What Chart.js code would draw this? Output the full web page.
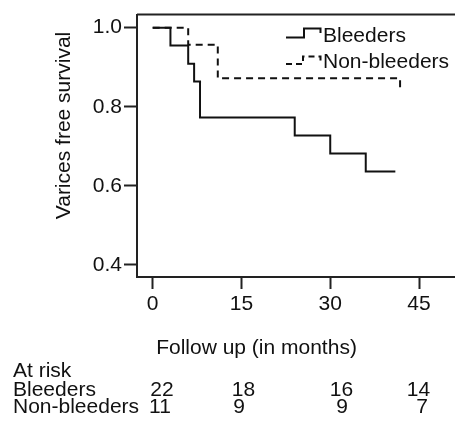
<!DOCTYPE html>
<html>
<head>
<meta charset="utf-8">
<script src="https://cdn.jsdelivr.net/npm/chart.js@4"></script>
<style>
  html, body { margin: 0; padding: 0; background: #fff; }
  #wrap { width: 455px; height: 421px; }
</style>
</head>
<body>
<div id="wrap"><canvas id="km"></canvas></div>
<script>
// Kaplan-Meier data (months, survival)
const bleedersTimes = [0, 3, 6, 7, 8, 24, 30, 36, 41];
const bleedersSurv = [1.0, 0.955, 0.909, 0.864, 0.773, 0.727, 0.682, 0.636, 0.636];
const nonBleedersTimes = [0, 6, 11, 41.8];
const nonBleedersSurv = [1.0, 0.957, 0.872, 0.843];

const xTicks = [0, 15, 30, 45];
const yTicks = [0.4, 0.6, 0.8, 1.0];

// numbers at risk
const riskGroups = ['Bleeders', 'Non-bleeders'];
const riskBleeders = [22, 18, 16, 14];
const riskNonBleeders = [11, 9, 9, 7];

const FONT = '"Liberation Sans", Arial, sans-serif';
const INK = '#111';

function toPoints(xs, ys) {
  return xs.map((x, i) => ({ x: x, y: ys[i] }));
}

// draws the frame top line, titles, legend and the at-risk table
const extras = {
  id: 'extras',
  afterDraw(chart) {
    const ctx = chart.ctx;
    const area = chart.chartArea;
    ctx.save();
    ctx.strokeStyle = '#222';
    ctx.lineWidth = 2;
    ctx.beginPath();
    ctx.moveTo(area.left, area.top);
    ctx.lineTo(area.right, area.top);
    ctx.stroke();

    ctx.fillStyle = INK;
    ctx.font = '21px ' + FONT;

    // y axis title
    ctx.save();
    ctx.translate(70, 125.5);
    ctx.rotate(-Math.PI / 2);
    ctx.textAlign = 'center';
    ctx.textBaseline = 'alphabetic';
    ctx.fillText('Varices free survival', 0, 0);
    ctx.restore();

    // x axis title
    ctx.textAlign = 'center';
    ctx.textBaseline = 'alphabetic';
    ctx.fillText('Follow up (in months)', 256.5, 354);

    // legend
    ctx.textAlign = 'left';
    ctx.fillText(riskGroups[0], 323, 41.5);
    ctx.fillText(riskGroups[1], 323, 68);
    ctx.strokeStyle = INK;
    ctx.lineWidth = 2;
    ctx.beginPath();
    ctx.moveTo(286, 37.5);
    ctx.lineTo(304, 37.5);
    ctx.lineTo(304, 28.5);
    ctx.lineTo(320.5, 28.5);
    ctx.lineTo(320.5, 33);
    ctx.stroke();
    ctx.setLineDash([6, 4]);
    ctx.beginPath();
    ctx.moveTo(286, 64);
    ctx.lineTo(303, 64);
    ctx.lineTo(303, 56.5);
    ctx.lineTo(320.5, 56.5);
    ctx.lineTo(320.5, 63);
    ctx.stroke();
    ctx.setLineDash([]);

    // at risk table
    ctx.textAlign = 'left';
    ctx.fillText('At risk', 13, 376.5);
    ctx.fillText(riskGroups[0], 13, 396);
    ctx.fillText(riskGroups[1], 13, 413);
    ctx.textAlign = 'center';
    const colB = [162, 243.5, 341.5, 418.5];
    const colN = [160, 239, 342, 422];
    riskBleeders.forEach((n, i) => ctx.fillText(String(n), colB[i], 396));
    riskNonBleeders.forEach((n, i) => ctx.fillText(String(n), colN[i], 413));
    ctx.restore();
  }
};

new Chart(document.getElementById('km'), {
  type: 'scatter',
  data: {
    datasets: [
      {
        label: 'Bleeders',
        data: toPoints(bleedersTimes, bleedersSurv),
        showLine: true,
        stepped: 'before',
        borderColor: INK,
        borderWidth: 2,
        pointRadius: 0,
        fill: false
      },
      {
        label: 'Non-bleeders',
        data: toPoints(nonBleedersTimes, nonBleedersSurv),
        showLine: true,
        stepped: 'before',
        borderColor: INK,
        borderWidth: 2,
        borderDash: [7, 5],
        pointRadius: 0,
        fill: false
      }
    ]
  },
  options: {
    responsive: true,
    maintainAspectRatio: false,
    animation: false,
    layout: { padding: { top: 14, right: 0, left: 0, bottom: 0 } },
    plugins: {
      legend: { display: false },
      tooltip: { enabled: false }
    },
    scales: {
      x: {
        type: 'linear',
        min: -2.65,
        max: 51.08,
        afterBuildTicks: (s) => { s.ticks = xTicks.map(v => ({ value: v })); },
        afterFit: (s) => { s.height = 144; },
        border: { color: '#222', width: 2 },
        grid: { drawOnChartArea: false, drawTicks: true, tickLength: 12, tickWidth: 2, color: '#222' },
        ticks: { color: INK, font: { family: FONT, size: 21 }, padding: 3, maxRotation: 0 }
      },
      y: {
        type: 'linear',
        min: 0.3695,
        max: 1.033,
        afterBuildTicks: (s) => { s.ticks = yTicks.map(v => ({ value: v })); },
        afterFit: (s) => { s.width = 137; },
        border: { color: '#222', width: 2 },
        grid: { drawOnChartArea: false, drawTicks: true, tickLength: 13, tickWidth: 2, color: '#222' },
        ticks: { color: INK, font: { family: FONT, size: 21 }, padding: 2, callback: (v) => Number(v).toFixed(1) }
      }
    }
  },
  plugins: [extras]
});
</script>
</body>
</html>
